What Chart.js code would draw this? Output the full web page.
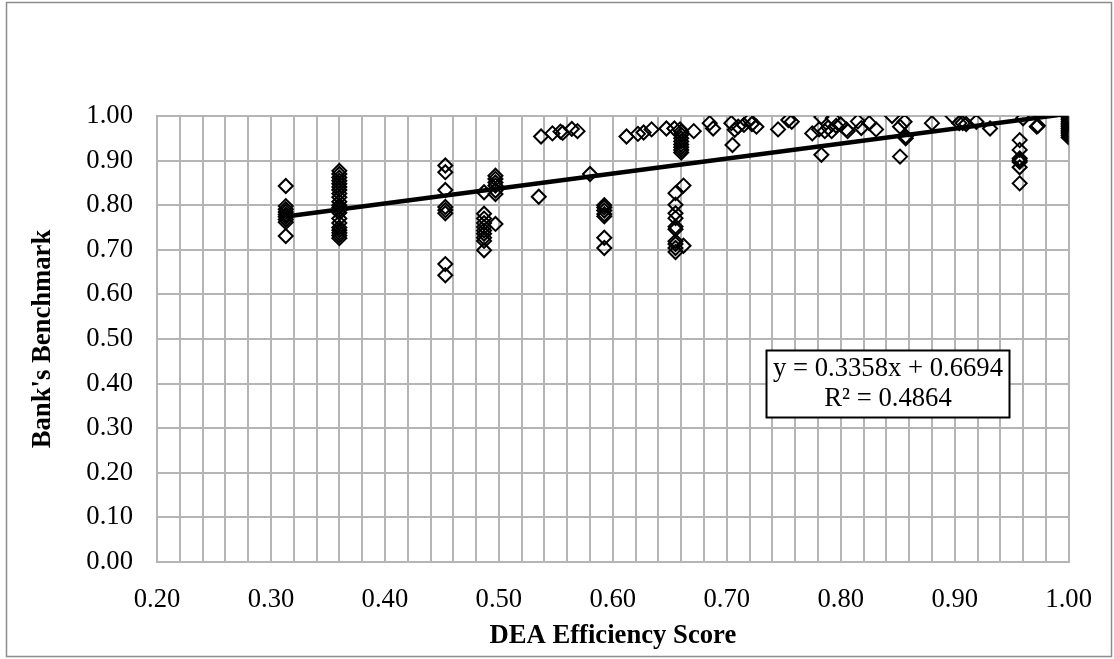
<!DOCTYPE html>
<html><head><meta charset="utf-8">
<script src="https://cdn.jsdelivr.net/npm/chart.js@4/dist/chart.umd.min.js"></script>
<style>html,body{margin:0;padding:0;background:#fff;}#wrap{width:1114px;height:659px;}</style>
</head><body><div id="wrap"><canvas id="c" width="1114" height="659"></canvas></div>
<script>
// ---- data ----
const xValues = [
  0.313,0.313,0.313,0.313,0.313,0.313,0.313,0.313,0.313,
  0.36,0.36,0.36,0.36,0.36,0.36,0.36,0.36,0.36,0.36,0.36,0.36,0.36,0.36,0.36,0.36,0.36,0.36,0.36,0.36,0.36,
  0.453,0.453,0.453,0.453,0.453,0.453,0.453,0.453,
  0.487,0.487,0.487,0.487,0.487,0.487,0.487,0.487,0.487,0.487,
  0.497,0.497,0.497,0.497,0.497,0.497,0.497,
  0.535,0.537,0.547,0.554,0.556,0.564,0.569,0.580,
  0.5925,0.5925,0.5925,0.5925,0.5925,0.5925,0.5925,
  0.612,0.622,0.627,0.634,0.647,0.654,0.659,0.671,
  0.66,0.66,0.66,0.66,0.66,0.66,0.66,0.66,
  0.655,0.655,0.655,0.655,0.655,0.655,0.655,0.655,0.655,0.655,
  0.662,0.662,
  0.685,0.688,0.704,0.705,0.707,0.710,0.715,0.720,0.722,0.726,
  0.745,0.754,0.757,0.775,
  0.783,0.783,0.781,0.786,0.789,0.793,0.792,0.796,0.800,0.805,0.806,0.815,0.818,0.825,0.831,
  0.845,0.852,0.852,0.856,0.857,0.857,
  0.880,0.898,0.904,0.907,0.910,0.919,0.931,
  0.957,0.957,0.957,0.957,0.957,0.957,0.957,
  0.960,0.972,0.973,
  1,1,1,1,1,1,1,1,1,1,1,1,1
];
const yValues = [
  0.843,0.798,0.791,0.785,0.779,0.774,0.768,0.762,0.731,
  0.877,0.870,0.862,0.855,0.848,0.841,0.834,0.826,0.818,0.808,0.800,0.795,0.789,0.783,0.770,0.760,0.750,0.744,0.738,0.732,0.726,
  0.889,0.874,0.834,0.796,0.789,0.782,0.668,0.643,
  0.829,0.781,0.770,0.760,0.751,0.743,0.736,0.727,0.720,0.699,
  0.866,0.859,0.851,0.844,0.833,0.825,0.758,
  0.819,0.954,0.961,0.965,0.962,0.971,0.966,0.870,
  0.800,0.795,0.788,0.780,0.775,0.727,0.704,
  0.954,0.960,0.963,0.970,0.972,0.972,0.970,0.966,
  0.965,0.958,0.950,0.943,0.936,0.930,0.924,0.918,
  0.827,0.801,0.782,0.771,0.752,0.746,0.719,0.713,0.704,0.695,
  0.844,0.709,
  0.984,0.972,0.984,0.935,0.969,0.976,0.980,0.991,0.982,0.976,
  0.970,0.991,0.987,0.961,
  0.998,0.913,0.970,0.966,0.974,0.995,0.966,0.978,0.981,0.970,0.966,0.988,0.973,0.984,0.970,
  1.000,0.909,0.976,0.987,0.954,0.950,
  0.984,1.000,0.984,0.984,0.982,0.987,0.972,
  0.946,0.924,0.905,0.901,0.897,0.885,0.849,
  0.995,0.976,0.978,
  1.000,0.996,0.992,0.988,0.984,0.980,0.976,0.972,0.968,0.964,0.960,0.956,0.952
];
const xTickLabels = ['0.20','0.30','0.40','0.50','0.60','0.70','0.80','0.90','1.00'];
const yTickLabels = ['0.00','0.10','0.20','0.30','0.40','0.50','0.60','0.70','0.80','0.90','1.00'];
const trendSlope = 0.3358;
const trendIntercept = 0.6694;
const trendRange = [0.313, 1.0];
const equationLines = ['y = 0.3358x + 0.6694', 'R\u00b2 = 0.4864'];
const xTitle = 'DEA Efficiency Score';
const yTitle = "Bank's Benchmark";

// ---- chart ----
const points = xValues.map((x, i) => ({x: x, y: yValues[i]}));
const trendPoints = trendRange.map(x => ({x: x, y: trendSlope * x + trendIntercept}));
const FONT = "'Liberation Serif', 'Times New Roman', serif";
const FS = 26.67;
const GRID = '#b5b5b5';

const PLOT = {left: 157, right: 1074, top: 116, bottom: 562};

const frame = {
  id: 'frame',
  beforeDraw(chart) {
    const c = chart.ctx;
    c.save();
    c.fillStyle = '#fff';
    c.fillRect(0, 0, chart.width, chart.height);
    c.strokeStyle = '#8c8c8c';
    c.lineWidth = 1.5;
    c.strokeRect(6.5, 2.5, chart.width - 9, chart.height - 5);
    c.restore();
  },
  afterDatasetsDraw(chart) {
    const c = chart.ctx, xs = chart.scales.x, ys = chart.scales.y;
    const l = Math.round(xs.getPixelForValue(0.734)) + 0.5, r = Math.round(xs.getPixelForValue(0.948)) + 0.5;
    const t = Math.round(ys.getPixelForValue(0.476)) + 0.5, b = Math.round(ys.getPixelForValue(0.325)) + 0.5;
    c.save();
    c.fillStyle = '#fff';
    c.fillRect(l, t, r - l, b - t);
    c.strokeStyle = '#000';
    c.lineWidth = 2;
    c.strokeRect(l, t, r - l, b - t);
    c.fillStyle = '#000';
    c.font = FS + "px " + FONT;
    c.textAlign = 'center';
    c.textBaseline = 'middle';
    const cx = (l + r) / 2, cy = (t + b) / 2;
    c.fillText(equationLines[0], cx, cy - 15);
    c.fillText(equationLines[1], cx, cy + 15);
    c.restore();
  }
};

new Chart(document.getElementById('c'), {
  type: 'scatter',
  data: {
    datasets: [
      {
        type: 'line',
        label: 'Linear trend',
        data: trendPoints,
        borderColor: '#000',
        borderWidth: 4.5,
        pointRadius: 0,
        fill: false,
        showLine: true
      },
      {
        label: "Bank's Benchmark",
        data: points,
        pointStyle: 'rectRot',
        pointRadius: 7,
        pointHoverRadius: 7,
        borderColor: '#000',
        borderWidth: 2,
        backgroundColor: 'rgba(0,0,0,0)',
        showLine: false
      }
    ]
  },
  options: {
    responsive: false,
    devicePixelRatio: 1,
    animation: false,
    events: [],
    layout: {padding: {left: 0, right: 1114 - PLOT.right, top: PLOT.top, bottom: 0}},
    plugins: {legend: {display: false}, tooltip: {enabled: false}},
    scales: {
      x: {
        type: 'linear',
        min: 0.2, max: 1.0,
        afterFit(s) { s.height = 659 - PLOT.bottom; },
        ticks: {
          stepSize: 0.02,
          autoSkip: false,
          maxRotation: 0,
          padding: 22,
          color: '#000',
          font: {family: FONT, size: FS},
          callback(v) {
            const k = Math.round(v * 10);
            if (Math.abs(v * 10 - k) < 1e-6) {
              const lbl = xTickLabels[k - 2];
              return lbl === undefined ? '' : lbl;
            }
            return '';
          }
        },
        grid: {color: GRID, lineWidth: 2, drawTicks: false},
        border: {color: GRID, width: 2},
        title: {display: true, text: xTitle, color: '#000',
          font: {family: FONT, size: FS, weight: 'bold'}, padding: {top: 0, bottom: 7}}
      },
      y: {
        type: 'linear',
        min: 0, max: 1.0,
        afterFit(s) { s.width = PLOT.left; },
        ticks: {
          stepSize: 0.1,
          padding: 24,
          color: '#000',
          font: {family: FONT, size: FS},
          callback(v) {
            const k = Math.round(v * 10);
            const lbl = yTickLabels[k];
            return lbl === undefined ? '' : lbl;
          }
        },
        grid: {color: GRID, lineWidth: 2, drawTicks: false},
        border: {color: GRID, width: 2},
        title: {display: true, text: yTitle, color: '#000',
          font: {family: FONT, size: FS, weight: 'bold'}, padding: {top: 27, bottom: 0}}
      }
    }
  },
  plugins: [frame]
});
</script>
</body></html>
